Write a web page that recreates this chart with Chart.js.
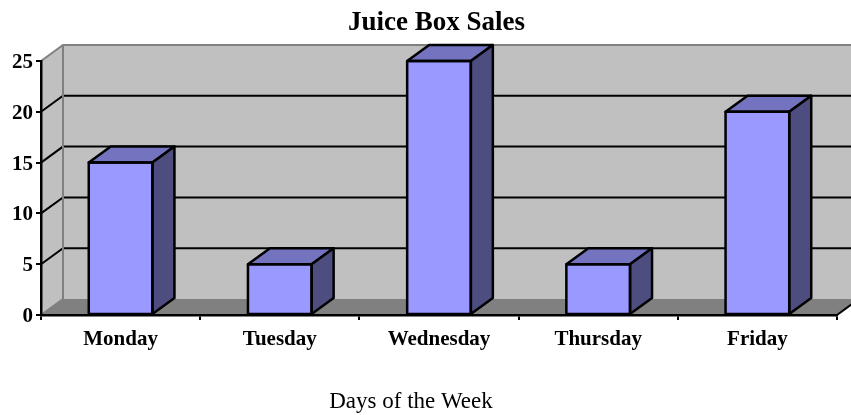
<!DOCTYPE html>
<html>
<head>
<meta charset="utf-8">
<style>
  html, body { margin: 0; padding: 0; background: #fff; }
  canvas { display: block; }
</style>
<script src="https://cdn.jsdelivr.net/npm/chart.js@4"></script>
</head>
<body>
<canvas id="salesChart" width="851" height="415"></canvas>
<script>
const days = ['Monday', 'Tuesday', 'Wednesday', 'Thursday', 'Friday'];
const sales = [15, 5, 25, 5, 20];
const chartTitle = 'Juice Box Sales';
const xTitle = 'Days of the Week';

// the fake 3d depth, same for the walls and the bars
const depthX = 22;
const depthY = 16;

function poly(ctx, pts, fill, stroke) {
    ctx.beginPath();
    pts.forEach((p, i) => i ? ctx.lineTo(p[0], p[1]) : ctx.moveTo(p[0], p[1]));
    ctx.closePath();
    if (fill) { ctx.fillStyle = fill; ctx.fill(); }
    if (stroke) { ctx.strokeStyle = stroke; ctx.lineWidth = 2.5; ctx.lineJoin = 'round'; ctx.stroke(); }
}

function line(ctx, pts, color) {
    ctx.beginPath();
    pts.forEach((p, i) => i ? ctx.lineTo(p[0], p[1]) : ctx.moveTo(p[0], p[1]));
    ctx.strokeStyle = color;
    ctx.lineWidth = 2;
    ctx.stroke();
}

const box3d = {
    id: 'box3d',
    afterLayout(chart) {
        // both titles sit off the centre of the chart in the original
        chart.boxes.forEach(b => {
            if (b.options && b.options.text === chartTitle) { b.left = 0; b.right = 873; }
            if (b.options && b.options.text === xTitle) { b.left = 0; b.right = 822; }
        });
    },
    beforeDraw(chart) {
        const ctx = chart.ctx;
        const a = chart.chartArea;
        const y = chart.scales.y;
        const w = chart.width;
        ctx.save();
        // back wall and side wall
        poly(ctx, [[a.left + depthX, a.top - depthY], [w, a.top - depthY], [w, a.bottom - depthY], [a.left + depthX, a.bottom - depthY]], '#c0c0c0');
        poly(ctx, [[a.left, a.top], [a.left + depthX, a.top - depthY], [a.left + depthX, a.bottom - depthY], [a.left, a.bottom]], '#c0c0c0');
        // floor
        poly(ctx, [[a.left, a.bottom], [a.left + depthX, a.bottom - depthY], [a.right + depthX, a.bottom - depthY], [a.right, a.bottom]], '#808080');
        // gridlines run round the side wall and along the back
        y.ticks.forEach(t => {
            const py = y.getPixelForValue(t.value);
            if (t.value === 0 || t.value === 25) return;
            line(ctx, [[a.left, py], [a.left + depthX, py - depthY], [w, py - depthY]], '#000');
        });
        line(ctx, [[a.left, a.bottom], [a.left + depthX, a.bottom - depthY], [a.left + depthX, a.top - depthY]], '#808080');
        line(ctx, [[a.left, a.top], [a.left + depthX, a.top - depthY], [w, a.top - depthY]], '#808080');
        // front right edge of the floor
        line(ctx, [[a.right, a.bottom], [a.right + depthX, a.bottom - depthY]], '#000');
        ctx.restore();
    },
    afterDatasetsDraw(chart) {
        const ctx = chart.ctx;
        ctx.save();
        chart.getDatasetMeta(0).data.forEach(bar => {
            const l = bar.x - bar.width / 2;
            const r = bar.x + bar.width / 2;
            const t = bar.y;
            const b = bar.base;
            poly(ctx, [[l, t], [l + depthX, t - depthY], [r + depthX, t - depthY], [r, t]], '#7373bf', '#000');
            poly(ctx, [[r, t], [r + depthX, t - depthY], [r + depthX, b - depthY], [r, b]], '#4d4d80', '#000');
            // outline centred on the bar edges, the library would draw it inside
            poly(ctx, [[l, t], [r, t], [r, b], [l, b]], null, '#000');
        });
        ctx.restore();
    }
};

const serif = '"Liberation Serif", "Times New Roman", serif';

new Chart(document.getElementById('salesChart'), {
    type: 'bar',
    data: {
        labels: days,
        datasets: [{
            data: sales,
            backgroundColor: '#9999ff',
            borderWidth: 0,
            barPercentage: 0.4,
            categoryPercentage: 1
        }]
    },
    options: {
        responsive: false,
        animation: false,
        layout: { padding: { left: 0, right: 14, top: 0, bottom: 0 } },
        plugins: {
            legend: { display: false },
            tooltip: { enabled: false },
            title: {
                display: true,
                text: chartTitle,
                color: '#000',
                font: { family: serif, size: 27, weight: 'bold' },
                padding: { top: 7, bottom: 21.6 }
            },
            subtitle: {
                display: true,
                position: 'bottom',
                text: xTitle,
                color: '#000',
                font: { family: serif, size: 23, weight: 'normal' },
                padding: { top: 3, bottom: -1 }
            }
        },
        scales: {
            x: {
                afterFit(s) { s.height = 70.4; },
                border: { color: '#000', width: 2.5 },
                grid: { drawOnChartArea: false, color: '#000', lineWidth: 2, tickLength: 5 },
                ticks: { color: '#000', font: { family: serif, size: 21, weight: 'bold' }, padding: 7, maxRotation: 0 }
            },
            y: {
                min: 0,
                max: 25,
                afterFit(s) { s.width = 41; },
                border: { color: '#000', width: 2.5 },
                grid: { drawOnChartArea: false, color: '#000', lineWidth: 2, tickLength: 5 },
                ticks: {
                    stepSize: 5,
                    color: '#000',
                    // blank first line with a tiny line height nudges the numbers down to the tick
                    callback: v => ['', String(v)],
                    font: { family: serif, size: 21, weight: 'bold', lineHeight: '3px' },
                    padding: 3
                }
            }
        }
    },
    plugins: [box3d]
});
</script>
</body>
</html>
